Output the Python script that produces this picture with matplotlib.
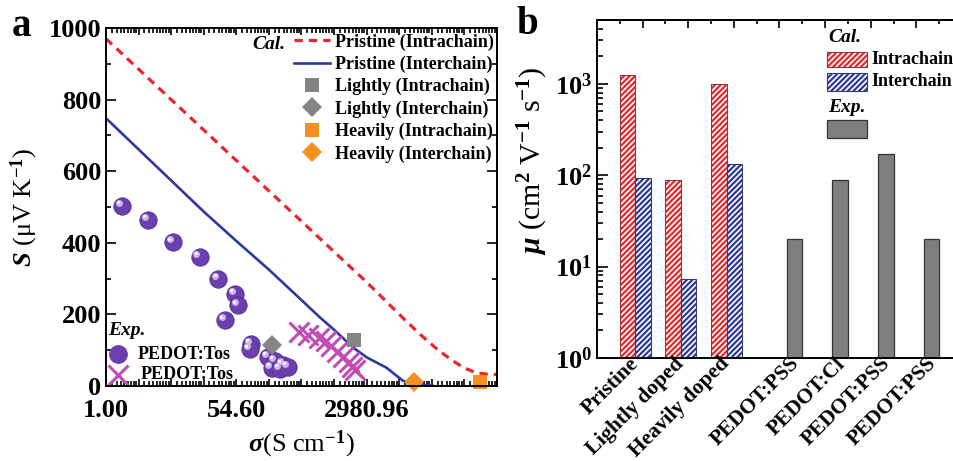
import numpy as np
import matplotlib
matplotlib.use("Agg")
import matplotlib.pyplot as plt
from matplotlib import transforms
from matplotlib.patches import Rectangle
from matplotlib.ticker import NullFormatter

plt.rcParams['font.family'] = ['Liberation Serif', 'DejaVu Serif']
plt.rcParams['font.weight'] = 'bold'
plt.rcParams['mathtext.fontset'] = 'custom'
plt.rcParams['mathtext.rm'] = 'Liberation Serif:bold'
plt.rcParams['mathtext.bf'] = 'Liberation Serif:bold'
plt.rcParams['mathtext.it'] = 'Liberation Serif:italic:bold'
plt.rcParams['mathtext.default'] = 'rm'
plt.rcParams['hatch.linewidth'] = 1.6

# ---- panel a data (ln of sigma, S in uV/K) ----
ln_intra = [0, 2, 4, 6, 8, 8.56, 9, 9.63, 10.2, 10.65, 11, 11.37, 11.7, 12]
s_intra = [970, 800, 630, 460, 290, 240, 200, 145, 100, 70, 50, 37, 33, 32]
ln_inter = [0, 1, 2, 3, 4, 5, 6, 6.56, 7, 7.59, 8, 8.61, 9.12, 9.63, 10.05]
s_inter = [748, 661, 574, 487, 405, 325, 240, 192, 157, 107, 80, 51, 14, 5, 0]
ln_tos1 = [0.48, 1.30, 2.06, 2.87, 3.45, 3.95, 4.06, 3.65, 4.44, 4.42,
           4.98, 5.18, 5.44, 5.08, 5.34, 5.59]
s_tos1 = [504, 464, 401, 360, 300, 257, 225, 183, 117, 102,
          82, 70, 60, 51, 47, 52]
ln_tos2 = [5.93, 6.2, 6.55, 6.75, 6.9, 7.1, 7.28, 7.45, 7.55, 7.65]
s_tos2 = [152, 142, 133, 125, 112, 96, 80, 66, 54, 44]
ln_light = [7.62, 5.09]   # intrachain, interchain
s_light = [128, 114]
ln_heavy = [11.48, 9.45]
s_heavy = [12, 11]

# ---- panel b data ----
cal_labels = ['Pristine', 'Lightly doped', 'Heavily doped']
mu_intra = [1250, 89, 1000]
mu_inter = [94, 7.3, 132]
exp_labels = ['PEDOT:PSS', 'PEDOT:Cl', 'PEDOT:PSS', 'PEDOT:PSS']
mu_exp = [20, 88, 170, 20]

W, H = 954, 461
fig = plt.figure(figsize=(W / 100, H / 100), dpi=100)

def box(l, t, r, b):
    return [l / W, 1 - b / H, (r - l) / W, (b - t) / H]

red = '#e8262c'
blue = '#2b3a9c'
gray = '#848484'
orange = '#f39021'
purple = '#6c3fae'
magenta = '#c24bb6'

# ================= panel a =================
ax = fig.add_axes(box(106, 28, 497, 386))
ax.set_xscale('log', base=np.e)
ax.plot(np.exp(ln_intra), s_intra, color=red, lw=2.3, dashes=(2.6, 1.9))
ax.plot(np.exp(ln_inter), s_inter, color=blue, lw=1.9)

ax.plot(np.exp(ln_tos1), s_tos1, 'o', ms=12.5, color=purple, mec='#553090', mew=0.6)
hl = transforms.offset_copy(ax.transData, fig=fig, x=-2.2, y=2.2, units='points')
ax.plot(np.exp(ln_tos1), s_tos1, 'o', ms=5, color='#c9b6ea', mew=0, transform=hl)
hl2 = transforms.offset_copy(ax.transData, fig=fig, x=-2.8, y=2.8, units='points')
ax.plot(np.exp(ln_tos1), s_tos1, 'o', ms=2.2, color='white', mew=0, transform=hl2)
ax.plot(np.exp(ln_tos2), s_tos2, 'x', ms=14, color=magenta, mew=2.2)

h3, = ax.plot(np.exp(ln_light[0]), s_light[0], 's', ms=10.5, color=gray, mew=0)
h4, = ax.plot(np.exp(ln_light[1]), s_light[1], 'D', ms=10, color=gray, mew=0)
h5, = ax.plot(np.exp(ln_heavy[0]), s_heavy[0], 's', ms=10.5, color=orange, mew=0, clip_on=False)
h6, = ax.plot(np.exp(ln_heavy[1]), s_heavy[1], 'D', ms=10, color=orange, mew=0, clip_on=False)
h1, = ax.plot([], [], color=red, lw=2.3, dashes=(2.6, 1.9))
h2, = ax.plot([], [], color=blue, lw=1.9)

ax.set_xlim(1, np.exp(12))
ax.set_ylim(0, 1000)
ax.set_xticks(np.exp(np.arange(0, 13)))
ax.set_xticklabels(['%.2f' % np.exp(n) if n in (0, 4, 8) else '' for n in range(13)])
minors = []
for n in range(12):
    minors += list(np.linspace(np.exp(n), np.exp(n + 1), 10)[1:-1])
ax.set_xticks(minors, minor=True)
ax.xaxis.set_minor_formatter(NullFormatter())
ax.set_yticks(range(0, 1001, 200))
ax.set_yticks(range(100, 1000, 200), minor=True)
ax.tick_params(which='both', direction='in', top=True, right=True, width=1.2,
               labelsize=19)
ax.tick_params(which='major', length=7)
ax.tick_params(which='minor', length=3.5)
ax.tick_params(axis='x', which='major', length=5)
ax.tick_params(axis='x', pad=9)
for sp in ax.spines.values():
    sp.set_linewidth(1.4)
ax.set_xlabel(r'$\mathit{σ}$(S cm$^{-1}$)', fontsize=19, labelpad=5)
ax.set_ylabel(r'$\mathit{S}$ (μV K$^{-1}$)', fontsize=19, labelpad=6)

leg = ax.legend([h1, h2, h3, h4, h5, h6],
                ['Pristine (Intrachain)', 'Pristine (Interchain)',
                 'Lightly (Intrachain)', 'Lightly (Interchain)',
                 'Heavily (Intrachain)', 'Heavily (Interchain)'],
                loc='upper left', bbox_to_anchor=(0.48, 0.985), frameon=False,
                fontsize=13, handlelength=2.0, handletextpad=0.3,
                labelspacing=0.28, borderpad=0, borderaxespad=0)
ax.text(0.458, 0.953, 'Cal.', transform=ax.transAxes, fontsize=14,
        style='italic', ha='right', va='center')

ax.text(0.005, 0.156, 'Exp.', transform=ax.transAxes, fontsize=14,
        style='italic', ha='left', va='center')
ax.plot([0.031], [0.089], 'o', ms=12.5, color=purple, transform=ax.transAxes, clip_on=False)
ax.plot([0.031], [0.031], 'x', ms=14, color=magenta, mew=2.2, transform=ax.transAxes, clip_on=False)
ax.text(0.082, 0.089, 'PEDOT:Tos', transform=ax.transAxes, fontsize=13, va='center')
ax.text(0.088, 0.031, 'PEDOT:Tos', transform=ax.transAxes, fontsize=13, va='center')

fig.text(12 / W, 1 - 26 / H, 'a', fontsize=28, va='center', ha='left')

# ================= panel b =================
bx = fig.add_axes(box(597, 20, 962, 358))
bx.set_yscale('log')
bw = 0.34
xc = np.arange(len(cal_labels)) + 0.84
xe = np.array([4.33, 5.33, 6.33, 7.33])
bx.bar(xc - bw / 2, mu_intra, bw, color='white', edgecolor=red, hatch='//////', lw=0)
bx.bar(xc - bw / 2, mu_intra, bw, fill=False, edgecolor='#8a3a3a', lw=0.8)
bx.bar(xc + bw / 2, mu_inter, bw, color='white', edgecolor=blue, hatch='//////', lw=0)
bx.bar(xc + bw / 2, mu_inter, bw, fill=False, edgecolor='#3a3a6a', lw=0.8)
bx.bar(xe, mu_exp, bw, color='#7f7f7f', edgecolor='#333333', lw=0.9)

bx.set_xlim(0, 8)
bx.set_ylim(1, 5000)
bx.set_yticks([1, 10, 100, 1000])
bx.set_yticklabels([r'$\mathbf{10^{%d}}$' % k for k in range(4)])
bx.yaxis.set_minor_formatter(NullFormatter())
bx.set_xticks(list(xc) + list(xe + 0.04))
bx.set_xticklabels(cal_labels + exp_labels, rotation=45, ha='right', va='center',
                   rotation_mode='anchor', fontsize=15.5)
bx.tick_params(axis='x', which='both', bottom=False, top=False, pad=-1.5)
sec = bx.secondary_xaxis('top')
sec.set_xticks(range(1, 8))
sec.set_xticks(np.arange(0.5, 8, 1), minor=True)
sec.tick_params(which='both', direction='in', labeltop=False, width=1.2)
sec.tick_params(which='major', length=6)
sec.tick_params(which='minor', length=3)
bx.tick_params(axis='y', which='both', direction='in', width=1.2, labelsize=19)
bx.tick_params(axis='y', which='major', length=8)
bx.tick_params(axis='y', which='minor', length=4)
for sp in bx.spines.values():
    sp.set_linewidth(1.4)
sec.spines['top'].set_linewidth(1.4)
bx.set_ylabel(r'$\mathit{μ}$ (cm$^{2}$ V$^{-1}$ s$^{-1}$)', fontsize=21.5)
bx.yaxis.set_label_coords(-0.13, 0.585)

# legend of panel b (figure pixels)
def fbox(l, t, r, b, **kw):
    fig.patches.append(Rectangle((l / W, 1 - b / H), (r - l) / W, (b - t) / H,
                                 transform=fig.transFigure, **kw))

fig.text(828 / W, 1 - 38 / H, 'Cal.', fontsize=14, style='italic', va='center')
fbox(827, 52, 867, 67, facecolor='white', edgecolor=red, hatch='//////', lw=0)
fbox(827, 52, 867, 67, fill=False, edgecolor='#8a3a3a', lw=0.8)
fig.text(871 / W, 1 - 60 / H, 'Intrachain', fontsize=13, va='center')
fbox(827, 73, 867, 91, facecolor='white', edgecolor=blue, hatch='//////', lw=0)
fbox(827, 73, 867, 91, fill=False, edgecolor='#3a3a6a', lw=0.8)
fig.text(871 / W, 1 - 82 / H, 'Interchain', fontsize=13, va='center')
fig.text(828 / W, 1 - 107 / H, 'Exp.', fontsize=14, style='italic', va='center')
fbox(827, 120, 867, 138, facecolor='#7f7f7f', edgecolor='#333333', lw=0.9)

fig.text(516 / W, 1 - 24 / H, 'b', fontsize=28, va='center', ha='left')

fig.savefig('out.png', dpi=100)
